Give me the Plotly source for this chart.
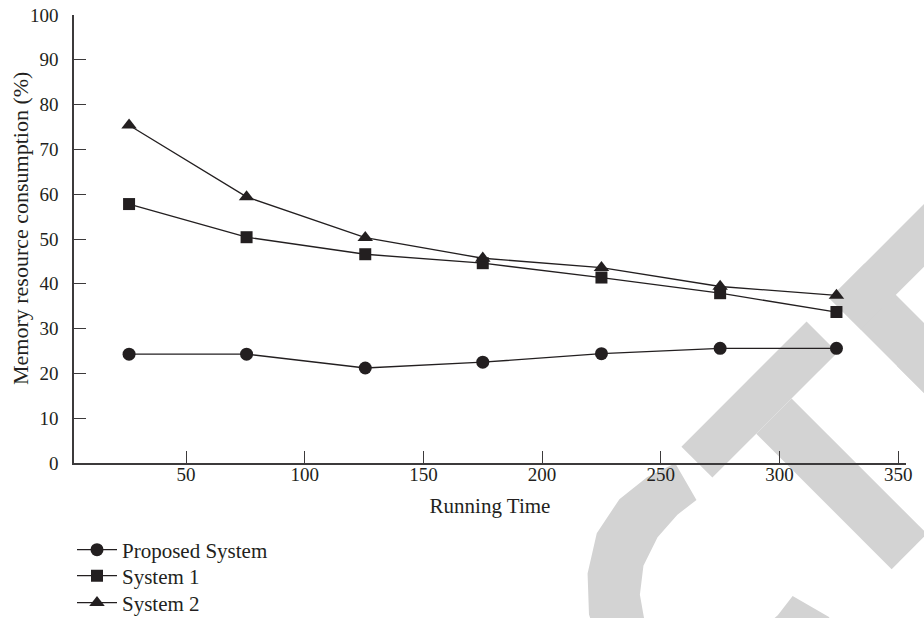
import math
import plotly.graph_objects as go

# Running time at which memory consumption was sampled
time_points = [26, 75.5, 125.5, 175, 225, 275, 324]

# Memory resource consumption (%) per system
proposed = [24.3, 24.3, 21.2, 22.5, 24.4, 25.6, 25.6]
system1 = [57.8, 50.4, 46.6, 44.6, 41.4, 37.9, 33.7]
system2 = [75.4, 59.4, 50.3, 45.7, 43.6, 39.4, 37.4]

series_names = ["Proposed System", "System 1", "System 2"]
x_ticks = [50, 100, 150, 200, 250, 300, 350]
y_ticks = [0, 10, 20, 30, 40, 50, 60, 70, 80, 90, 100]

INK = "#231f20"
AXIS = "#3c3a3b"
FONT = "Liberation Serif"

W, H = 924, 618
L, R, T, B = 74, 18, 15, 155
PW, PH = W - L - R, H - T - B


def px_x(x):
    return (x - L) / PW


def px_y(y):
    return (H - B - y) / PH


fig = go.Figure()
legend_ids = ["legend", "legend2", "legend3"]
for name, vals, sym, size, lg in [
    (series_names[0], proposed, "circle", 13, legend_ids[0]),
    (series_names[1], system1, "square", 12, legend_ids[1]),
    (series_names[2], system2, "triangle-up", 13.5, legend_ids[2]),
]:
    fig.add_trace(go.Scatter(
        x=time_points, y=vals, name=name, mode="lines+markers",
        line=dict(color=INK, width=1.3),
        marker=dict(symbol=sym, size=size, color=INK),
        legend=lg,
    ))


# --- faint diagonal watermark lettering drawn behind the plot ---
def to_paper(u, v):
    """Letter-frame (u along the slanted baseline, v up from it) -> paper coords."""
    s = math.sqrt(2)
    x = (s * u + 1458 - s * v) / 2
    y = (1458 - s * v - s * u) / 2
    return px_x(x), px_y(y)


def poly_path(pts):
    p = [to_paper(u, v) for u, v in pts]
    return "M " + " L ".join(f"{a:.5f},{b:.5f}" for a, b in p) + " Z"


def rect(u0, u1, v0, v1):
    return poly_path([(u0, v0), (u1, v0), (u1, v1), (u0, v1)])


outer_top = [(150, 226), (120, 236), (85, 240), (45, 232), (10, 210),
             (-18, 180), (-33, 150), (-38, 117)]
inner_top = [(139, 185), (115, 188), (85, 186), (55, 176), (32, 158),
             (18, 138), (13, 117)]


def mirror(pts):
    return [(u, 234 - v) for u, v in pts]


c_outline = (outer_top + mirror(outer_top[:-1])[::-1]
             + mirror(inner_top[:-1]) + inner_top[::-1])

wm_paths = [
    poly_path(c_outline),
    rect(166, 343, 189.5, 233.3),      # T bar
    rect(228, 278, -2, 189.5),         # T stem
    rect(375.5, 425, -2, 233.3),       # E spine
    rect(375.5, 540, 189, 233.3),      # E top arm
    rect(375.5, 520, 95, 138),         # E middle arm
    rect(375.5, 540, -2, 44),          # E bottom arm
]
for pth in wm_paths:
    fig.add_shape(type="path", path=pth, xref="paper", yref="paper",
                  fillcolor="rgb(211,211,211)", line=dict(width=0),
                  layer="below")

axis_common = dict(
    showline=True, linecolor=AXIS, linewidth=1.6,
    ticks="inside", ticklen=12, tickwidth=1.4, tickcolor=AXIS,
    showgrid=False, zeroline=False,
    tickfont=dict(family=FONT, size=19, color=INK),
)

fig.update_xaxes(
    range=[2.8, 353.3], tickmode="array", tickvals=x_ticks,
    ticklabelstandoff=-7,
    title=dict(text="Running Time", font=dict(family=FONT, size=21, color=INK),
               standoff=15),
    **axis_common,
)
fig.update_yaxes(
    range=[0, 100], tickmode="array", tickvals=y_ticks,
    ticklabelstandoff=10,
    **axis_common,
)

# vertical axis title
fig.add_annotation(
    text="Memory resource consumption (%)", textangle=-90,
    xref="paper", yref="paper", x=px_x(20), y=px_y(229),
    xanchor="center", yanchor="middle", showarrow=False,
    font=dict(family=FONT, size=22, color=INK),
)

legend_style = dict(
    xanchor="left", yanchor="middle",
    font=dict(family=FONT, size=21, color=INK),
    bgcolor="rgba(0,0,0,0)", itemwidth=40, borderwidth=0,
)
row_y = [550, 576, 603]

fig.update_layout(
    width=W, height=H,
    margin=dict(l=L, r=R, t=T, b=B, autoexpand=False),
    paper_bgcolor="white", plot_bgcolor="white",
    font=dict(family=FONT, color=INK),
    showlegend=True,
    legend=dict(x=px_x(72), y=px_y(row_y[0]), **legend_style),
    legend2=dict(x=px_x(72), y=px_y(row_y[1]), **legend_style),
    legend3=dict(x=px_x(72), y=px_y(row_y[2]), **legend_style),
)

fig.write_html("out.html")
